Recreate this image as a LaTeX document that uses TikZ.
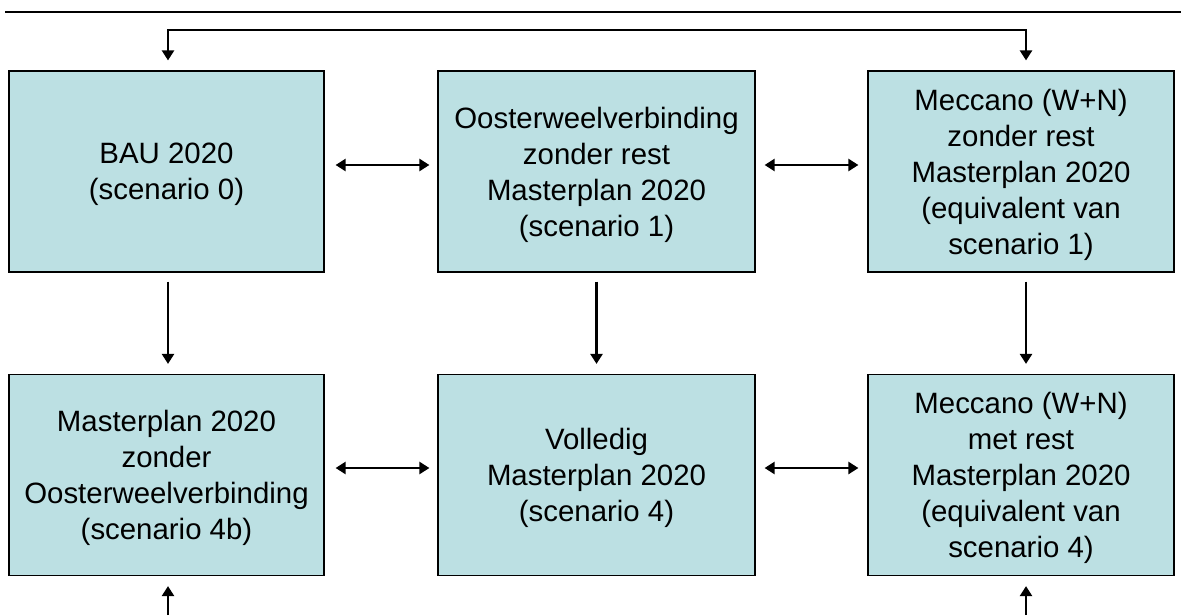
\documentclass[tikz,border=0pt]{standalone}
\usepackage{fontspec}
\setmainfont{Liberation Sans}
\usetikzlibrary{arrows.meta}
\definecolor{boxblue}{RGB}{188,224,227}

\begin{document}
\begin{tikzpicture}[x=0.5pt,y=-0.5pt,
    scenario/.style={draw, fill=boxblue, line width=0.6pt, align=center, inner sep=0pt,
      minimum height=100.5pt, font=\fontsize{14.7}{18}\selectfont, text depth=-5pt},
    pijl/.style={line width=1.2pt, -{Triangle[length=5pt,width=6pt]}},
    dubbelpijl/.style={line width=1.2pt, {Triangle[length=5pt,width=6pt]}-{Triangle[length=5pt,width=6pt]}}]
    \useasboundingbox (0,0) rectangle (1181,615);

    % lijn bovenaan
    \draw[line width=1pt] (5,12) -- (1181,12);

    % scenario's 2020
    \node[scenario, minimum width=157.5pt] (bau) at (166.5,171.5) {BAU 2020\\(scenario 0)};
    \node[scenario, minimum width=158.5pt] (osv) at (596.5,171.5) {Oosterweelverbinding\\zonder rest\\Masterplan 2020\\(scenario 1)};
    \node[scenario, minimum width=153pt] (mec1) at (1021,171.5) {Meccano (W+N)\\zonder rest\\Masterplan 2020\\(equivalent van\\scenario 1)};

    % volledig masterplan
    \node[scenario, minimum width=157.5pt] (mp) at (166.5,475) {Masterplan 2020\\zonder\\Oosterweelverbinding\\(scenario 4b)};
    \node[scenario, minimum width=158.5pt] (vol) at (596.5,475) {Volledig\\Masterplan 2020\\(scenario 4)};
    \node[scenario, minimum width=153pt] (mec2) at (1021,475) {Meccano (W+N)\\met rest\\Masterplan 2020\\(equivalent van\\scenario 4)};

    % horizontale pijlen
    \draw[dubbelpijl, shorten <=5.5pt, shorten >=4pt] ([yshift=3.25pt]bau.east) -- ([yshift=3.25pt]osv.west);
    \draw[dubbelpijl, shorten <=4.5pt, shorten >=4.5pt] ([yshift=3.25pt]osv.east) -- ([yshift=3.25pt]mec1.west);
    \draw[dubbelpijl, shorten <=5.5pt, shorten >=4pt] ([yshift=3.5pt]mp.east) -- ([yshift=3.5pt]vol.west);
    \draw[dubbelpijl, shorten <=4.5pt, shorten >=4.5pt] ([yshift=3.5pt]vol.east) -- ([yshift=3.5pt]mec2.west);

    % verticale pijlen
    \draw[pijl, shorten <=4.5pt, shorten >=5pt] ([xshift=0.75pt]bau.south) -- ([xshift=0.75pt]mp.north);
    \draw[pijl, shorten <=4.5pt, shorten >=5pt] (osv.south) -- (vol.north);
    \draw[pijl, shorten <=4.5pt, shorten >=5pt] ([xshift=2.5pt]mec1.south) -- ([xshift=2.5pt]mec2.north);

    % verbinding bovenaan
    \coordinate (bovenl) at (168,30);
    \coordinate (bovenr) at (1026,30);
    \draw[dubbelpijl, shorten <=5pt, shorten >=5pt] (bovenl |- bau.north) -- (bovenl) -- (bovenr) -- (bovenr |- mec1.north);

    % pijlen onderaan
    \coordinate (onderl) at (168,615);
    \coordinate (onderr) at (1026,615);
    \draw[pijl, shorten >=5pt] (onderl) -- (onderl |- mp.south);
    \draw[pijl, shorten >=5pt] (onderr) -- (onderr |- mec2.south);
\end{tikzpicture}
\end{document}
